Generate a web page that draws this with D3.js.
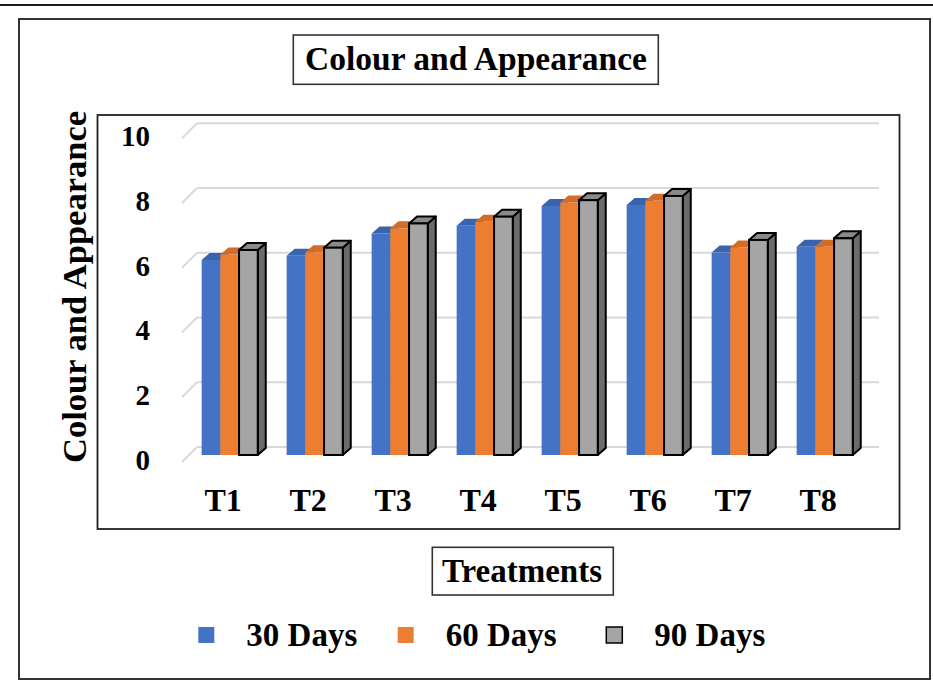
<!DOCTYPE html>
<html>
<head>
<meta charset="utf-8">
<script src="https://cdn.jsdelivr.net/npm/d3@7"></script>
<style>
  html, body { margin: 0; padding: 0; background: #fff; }
  svg { display: block; }
  text { font-family: "Liberation Serif", "Times New Roman", serif; font-weight: bold; fill: #000; }
</style>
</head>
<body>
<svg id="chart" width="933" height="681"></svg>
<script>
// ---- data ----
const categories = ["T1", "T2", "T3", "T4", "T5", "T6", "T7", "T8"];
const seriesNames = ["30 Days", "60 Days", "90 Days"];
const days30 = [6.03, 6.16, 6.85, 7.09, 7.70, 7.73, 6.26, 6.44];
const days60 = [6.20, 6.27, 7.01, 7.21, 7.81, 7.86, 6.42, 6.44];
const days90 = [6.34, 6.41, 7.16, 7.37, 7.88, 8.01, 6.65, 6.70];
const yTicks = [0, 2, 4, 6, 8, 10];
const chartTitle = "Colour and Appearance";
const yTitle = "Colour and Appearance";
const xTitle = "Treatments";

const seriesValues = [days30, days60, days90];
const colors = ["#4472C4", "#ED7D31", "#A5A5A5"];
const topColors = ["#3a63ad", "#d26c27", "#8a8a8a"];
const sideColors = ["#345a9e", "#c4621f", "#6b6b6b"];

const svg = d3.select("#chart");

// frame lines
svg.append("line").attr("x1", 0).attr("x2", 933).attr("y1", 5).attr("y2", 5)
  .attr("stroke", "#1a1a1a").attr("stroke-width", 2.2);
svg.append("rect").attr("x", 19).attr("y", 19).attr("width", 911).attr("height", 660)
  .attr("fill", "none").attr("stroke", "#333").attr("stroke-width", 2);
svg.append("rect").attr("x", 97.5).attr("y", 115).attr("width", 802).attr("height", 414)
  .attr("fill", "none").attr("stroke", "#222").attr("stroke-width", 1.8);

// 3D geometry
const depth = 15;
const barDx = 8, barDy = -7;

// scales
const yBack = d3.scaleLinear().domain([0, 10]).range([447, 123.3]);
const yBar = d3.scaleLinear().domain([0, 10]).range([455, 131.6]);
const yLab = d3.scaleLinear().domain([0, 10]).range([460, 136.3]);

const x = d3.scaleBand().domain(categories).range([187.2, 867.2])
  .paddingInner(0.34).paddingOuter(0.17);
const xInner = d3.scaleBand().domain(d3.range(seriesNames.length)).range([0, x.bandwidth()]);

// gridlines (back wall + side wall diagonal)
const grid = svg.append("g");
yTicks.forEach(v => {
  grid.append("line").attr("x1", 197).attr("x2", 879)
    .attr("y1", yBack(v)).attr("y2", yBack(v))
    .attr("stroke", "#d9d9d9").attr("stroke-width", 2);
  grid.append("line").attr("x1", 197 - depth).attr("x2", 197)
    .attr("y1", yBack(v) + depth).attr("y2", yBack(v))
    .attr("stroke", "#d9d9d9").attr("stroke-width", 2);
});

// y tick labels via axis
const yAxis = svg.append("g").attr("transform", "translate(150,0)")
  .call(d3.axisLeft(yLab).tickValues(yTicks).tickSize(0).tickPadding(0));
yAxis.select(".domain").remove();
yAxis.selectAll("text").style("font-size", "29px").style("font-family", "'Liberation Serif', serif")
  .style("font-weight", "bold").attr("fill", "#000");

// x category labels via axis
const xAxis = svg.append("g").attr("transform", "translate(-6.5,488)")
  .call(d3.axisBottom(x).tickSize(0).tickPadding(0));
xAxis.select(".domain").remove();
xAxis.selectAll("text").style("font-size", "32px").style("font-family", "'Liberation Serif', serif")
  .style("font-weight", "bold").attr("fill", "#000");

// bars
const bars = svg.append("g");
categories.forEach((c, i) => {
  seriesValues.forEach((vals, j) => {
    const v = vals[i];
    const x0 = x(c) + xInner(j);
    const w = xInner.bandwidth();
    const yT = yBar(v), yB = yBar(0);
    const isGray = j === 2;
    const stroke = isGray ? "#000" : "none";
    const sw = isGray ? 2 : 0;
    const g = bars.append("g");
    g.append("polygon")
      .attr("points", [[x0 + w, yB], [x0 + w + barDx, yB + barDy], [x0 + w + barDx, yT + barDy], [x0 + w, yT]].map(p => p.join(",")).join(" "))
      .attr("fill", sideColors[j]).attr("stroke", stroke).attr("stroke-width", sw).attr("stroke-linejoin", "round");
    g.append("polygon")
      .attr("points", [[x0, yT], [x0 + barDx, yT + barDy], [x0 + w + barDx, yT + barDy], [x0 + w, yT]].map(p => p.join(",")).join(" "))
      .attr("fill", topColors[j]).attr("stroke", stroke).attr("stroke-width", sw).attr("stroke-linejoin", "round");
    g.append("rect").attr("x", x0).attr("y", yT).attr("width", w).attr("height", yB - yT)
      .attr("fill", colors[j]).attr("stroke", stroke).attr("stroke-width", sw);
  });
});

// chart title
svg.append("rect").attr("x", 293.3).attr("y", 35).attr("width", 365).attr("height", 49.3)
  .attr("fill", "#fff").attr("stroke", "#333").attr("stroke-width", 1.6);
svg.append("text").attr("x", 476).attr("y", 70).attr("text-anchor", "middle")
  .style("font-size", "33.5px").text(chartTitle);

// y axis title
svg.append("text").attr("transform", "translate(86,287) rotate(-90)")
  .attr("text-anchor", "middle").style("font-size", "34.5px").text(yTitle);

// x axis title
svg.append("rect").attr("x", 432.3).attr("y", 547.3).attr("width", 181).attr("height", 47.7)
  .attr("fill", "#fff").attr("stroke", "#333").attr("stroke-width", 1.6);
svg.append("text").attr("x", 522).attr("y", 581.7).attr("text-anchor", "middle")
  .style("font-size", "33px").text(xTitle);

// legend
const legX = [198.3, 397.7, 606.3];
const legend = svg.append("g");
seriesNames.forEach((name, j) => {
  legend.append("rect").attr("x", legX[j]).attr("y", 627).attr("width", 16).attr("height", 16)
    .attr("fill", colors[j]).attr("stroke", j === 2 ? "#000" : "none").attr("stroke-width", 1.5);
  legend.append("text").attr("x", legX[j] + 48).attr("y", 646)
    .style("font-size", "33px").text(name);
});
</script>
</body>
</html>
